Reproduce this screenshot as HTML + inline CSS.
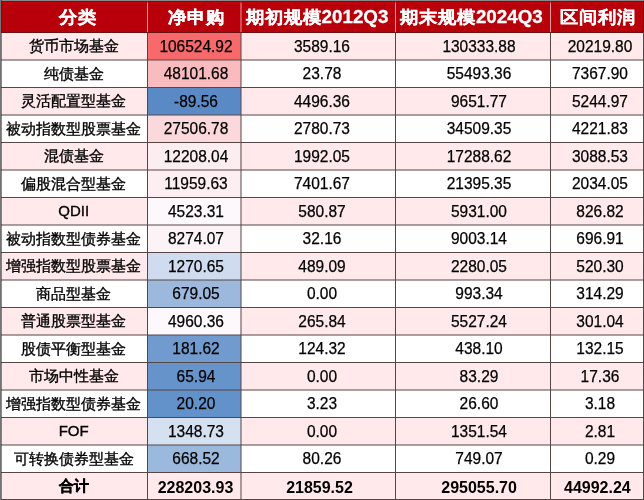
<!DOCTYPE html>
<html><head><meta charset="utf-8"><style>
html,body{margin:0;padding:0;width:644px;height:500px;overflow:hidden;background:#fff}
body{position:relative;font-family:"Liberation Sans",sans-serif}
svg{position:absolute;left:0;top:0}
.h,.k,.n{position:absolute;text-align:center;white-space:nowrap}
#t{position:absolute;left:0;top:0;width:644px;height:500px;will-change:transform}
.h{color:#fff;font-weight:bold;font-size:18.8px;-webkit-text-stroke:0.3px #fff;transform:scaleY(0.93)}
.k{color:#000;font-size:15px;-webkit-text-stroke:0.35px #000}
.n{color:#000;font-size:16.2px;-webkit-text-stroke:0.25px #000;transform:scaleX(0.9568)}
.n.b{transform:none;-webkit-text-stroke:0}
.b{font-weight:bold;font-size:16px}
.k.b{font-size:15px}
</style></head><body>
<svg width="644" height="500" viewBox="0 0 644 500" shape-rendering="geometricPrecision">
<rect x="0" y="0" width="644" height="32.5" fill="#b8000b"/>
<rect x="0" y="32.5" width="644" height="27.5" fill="#ffe9ea"/>
<rect x="147.5" y="32.5" width="93.5" height="27.5" fill="#f8696b"/>
<rect x="0" y="60.0" width="644" height="27.5" fill="#ffffff"/>
<rect x="147.5" y="60.0" width="93.5" height="27.5" fill="#fabbbe"/>
<rect x="0" y="87.5" width="644" height="27.5" fill="#ffe9ea"/>
<rect x="147.5" y="87.5" width="93.5" height="27.5" fill="#5a8ac6"/>
<rect x="0" y="115.0" width="644" height="27.5" fill="#ffffff"/>
<rect x="147.5" y="115.0" width="93.5" height="27.5" fill="#fbd8db"/>
<rect x="0" y="142.5" width="644" height="27.5" fill="#ffe9ea"/>
<rect x="147.5" y="142.5" width="93.5" height="27.5" fill="#fcedf0"/>
<rect x="0" y="170.0" width="644" height="27.5" fill="#ffffff"/>
<rect x="147.5" y="170.0" width="93.5" height="27.5" fill="#fceef1"/>
<rect x="0" y="197.5" width="644" height="27.5" fill="#ffe9ea"/>
<rect x="147.5" y="197.5" width="93.5" height="27.5" fill="#fcf8fb"/>
<rect x="0" y="225.0" width="644" height="27.5" fill="#ffffff"/>
<rect x="147.5" y="225.0" width="93.5" height="27.5" fill="#fcf3f6"/>
<rect x="0" y="252.5" width="644" height="27.5" fill="#ffe9ea"/>
<rect x="147.5" y="252.5" width="93.5" height="27.5" fill="#cfdcef"/>
<rect x="0" y="280.0" width="644" height="27.5" fill="#ffffff"/>
<rect x="147.5" y="280.0" width="93.5" height="27.5" fill="#9cb8dd"/>
<rect x="0" y="307.5" width="644" height="27.5" fill="#ffe9ea"/>
<rect x="147.5" y="307.5" width="93.5" height="27.5" fill="#fcf8fb"/>
<rect x="0" y="335.0" width="644" height="27.5" fill="#ffffff"/>
<rect x="147.5" y="335.0" width="93.5" height="27.5" fill="#719ace"/>
<rect x="0" y="362.5" width="644" height="27.5" fill="#ffe9ea"/>
<rect x="147.5" y="362.5" width="93.5" height="27.5" fill="#6793cb"/>
<rect x="0" y="390.0" width="644" height="27.5" fill="#ffffff"/>
<rect x="147.5" y="390.0" width="93.5" height="27.5" fill="#6391c9"/>
<rect x="0" y="417.5" width="644" height="27.5" fill="#ffe9ea"/>
<rect x="147.5" y="417.5" width="93.5" height="27.5" fill="#d5e1f1"/>
<rect x="0" y="445.0" width="644" height="27.5" fill="#ffffff"/>
<rect x="147.5" y="445.0" width="93.5" height="27.5" fill="#9bb8dd"/>
<rect x="0" y="472.5" width="644" height="27.0" fill="#ffe9ea"/>
<rect x="0" y="32.0" width="644" height="1" fill="#6a1010"/>
<rect x="0" y="59.5" width="644" height="1" fill="#574646"/>
<rect x="0" y="87.0" width="644" height="1" fill="#574646"/>
<rect x="0" y="114.5" width="644" height="1" fill="#574646"/>
<rect x="0" y="142.0" width="644" height="1" fill="#574646"/>
<rect x="0" y="169.5" width="644" height="1" fill="#574646"/>
<rect x="0" y="197.0" width="644" height="1" fill="#574646"/>
<rect x="0" y="224.5" width="644" height="1" fill="#574646"/>
<rect x="0" y="252.0" width="644" height="1" fill="#574646"/>
<rect x="0" y="279.5" width="644" height="1" fill="#574646"/>
<rect x="0" y="307.0" width="644" height="1" fill="#574646"/>
<rect x="0" y="334.5" width="644" height="1" fill="#574646"/>
<rect x="0" y="362.0" width="644" height="1" fill="#574646"/>
<rect x="0" y="389.5" width="644" height="1" fill="#574646"/>
<rect x="0" y="417.0" width="644" height="1" fill="#574646"/>
<rect x="0" y="444.5" width="644" height="1" fill="#574646"/>
<rect x="0" y="472.0" width="644" height="1" fill="#574646"/>
<rect x="0" y="499" width="644" height="1" fill="#574646"/>
<rect x="147.0" y="1" width="1" height="31.0" fill="#e89a9e"/>
<rect x="240.5" y="1" width="1" height="31.0" fill="#e89a9e"/>
<rect x="395.0" y="1" width="1" height="31.0" fill="#e89a9e"/>
<rect x="550.0" y="1" width="1" height="31.0" fill="#e89a9e"/>
<rect x="643" y="1" width="1" height="31.0" fill="#5a0808"/>
<rect x="0" y="1" width="644" height="1" fill="#8c0008" fill-opacity="0.8"/>
<rect x="0" y="2" width="644" height="1" fill="#d00010" fill-opacity="0.6"/>
<rect x="147.0" y="32.5" width="1" height="467.0" fill="#574646"/>
<rect x="240.5" y="32.5" width="1" height="467.0" fill="#574646"/>
<rect x="395.0" y="32.5" width="1" height="467.0" fill="#574646"/>
<rect x="550.0" y="32.5" width="1" height="467.0" fill="#574646"/>
<rect x="643.0" y="32.5" width="1" height="467.0" fill="#574646"/>
<rect x="0" y="0" width="644" height="1" fill="#8a8a8a"/>
<rect x="0" y="0" width="1" height="500" fill="#747474"/>
<rect x="1" y="0" width="1" height="500" fill="#282828" fill-opacity="0.55"/>
</svg>
<div id="t">
<div class="h" style="left:-22.400000000000006px;top:1px;width:200px;height:31.5px;line-height:31.5px">分类</div>
<div class="h" style="left:96.1px;top:1px;width:200px;height:31.5px;line-height:31.5px">净申购</div>
<div class="h" style="left:217.0px;top:1px;width:200px;height:31.5px;line-height:31.5px">期初规模2012Q3</div>
<div class="h" style="left:371.3px;top:1px;width:200px;height:31.5px;line-height:31.5px">期末规模2024Q3</div>
<div class="h" style="left:497.79999999999995px;top:1px;width:200px;height:31.5px;line-height:31.5px">区间利润</div>
<div class="k" style="left:-26.299999999999997px;top:32.0px;width:200px;height:27.5px;line-height:27.5px">货币市场基金</div>
<div class="n" style="left:96.0px;top:32.5px;width:200px;height:27.5px;line-height:27.5px">106524.92</div>
<div class="n" style="left:221.8px;top:32.5px;width:200px;height:27.5px;line-height:27.5px">3589.16</div>
<div class="n" style="left:379.0px;top:32.5px;width:200px;height:27.5px;line-height:27.5px">130333.88</div>
<div class="n" style="left:500.0px;top:32.5px;width:200px;height:27.5px;line-height:27.5px">20219.80</div>
<div class="k" style="left:-26.299999999999997px;top:59.5px;width:200px;height:27.5px;line-height:27.5px">纯债基金</div>
<div class="n" style="left:96.0px;top:60.0px;width:200px;height:27.5px;line-height:27.5px">48101.68</div>
<div class="n" style="left:221.8px;top:60.0px;width:200px;height:27.5px;line-height:27.5px">23.78</div>
<div class="n" style="left:379.0px;top:60.0px;width:200px;height:27.5px;line-height:27.5px">55493.36</div>
<div class="n" style="left:500.0px;top:60.0px;width:200px;height:27.5px;line-height:27.5px">7367.90</div>
<div class="k" style="left:-26.299999999999997px;top:87.0px;width:200px;height:27.5px;line-height:27.5px">灵活配置型基金</div>
<div class="n" style="left:96.0px;top:87.5px;width:200px;height:27.5px;line-height:27.5px">-89.56</div>
<div class="n" style="left:221.8px;top:87.5px;width:200px;height:27.5px;line-height:27.5px">4496.36</div>
<div class="n" style="left:379.0px;top:87.5px;width:200px;height:27.5px;line-height:27.5px">9651.77</div>
<div class="n" style="left:500.0px;top:87.5px;width:200px;height:27.5px;line-height:27.5px">5244.97</div>
<div class="k" style="left:-26.299999999999997px;top:114.5px;width:200px;height:27.5px;line-height:27.5px">被动指数型股票基金</div>
<div class="n" style="left:96.0px;top:115.0px;width:200px;height:27.5px;line-height:27.5px">27506.78</div>
<div class="n" style="left:221.8px;top:115.0px;width:200px;height:27.5px;line-height:27.5px">2780.73</div>
<div class="n" style="left:379.0px;top:115.0px;width:200px;height:27.5px;line-height:27.5px">34509.35</div>
<div class="n" style="left:500.0px;top:115.0px;width:200px;height:27.5px;line-height:27.5px">4221.83</div>
<div class="k" style="left:-26.299999999999997px;top:142.0px;width:200px;height:27.5px;line-height:27.5px">混债基金</div>
<div class="n" style="left:96.0px;top:142.5px;width:200px;height:27.5px;line-height:27.5px">12208.04</div>
<div class="n" style="left:221.8px;top:142.5px;width:200px;height:27.5px;line-height:27.5px">1992.05</div>
<div class="n" style="left:379.0px;top:142.5px;width:200px;height:27.5px;line-height:27.5px">17288.62</div>
<div class="n" style="left:500.0px;top:142.5px;width:200px;height:27.5px;line-height:27.5px">3088.53</div>
<div class="k" style="left:-26.299999999999997px;top:169.5px;width:200px;height:27.5px;line-height:27.5px">偏股混合型基金</div>
<div class="n" style="left:96.0px;top:170.0px;width:200px;height:27.5px;line-height:27.5px">11959.63</div>
<div class="n" style="left:221.8px;top:170.0px;width:200px;height:27.5px;line-height:27.5px">7401.67</div>
<div class="n" style="left:379.0px;top:170.0px;width:200px;height:27.5px;line-height:27.5px">21395.35</div>
<div class="n" style="left:500.0px;top:170.0px;width:200px;height:27.5px;line-height:27.5px">2034.05</div>
<div class="k" style="left:-26.299999999999997px;top:197.0px;width:200px;height:27.5px;line-height:27.5px">QDII</div>
<div class="n" style="left:96.0px;top:197.5px;width:200px;height:27.5px;line-height:27.5px">4523.31</div>
<div class="n" style="left:221.8px;top:197.5px;width:200px;height:27.5px;line-height:27.5px">580.87</div>
<div class="n" style="left:379.0px;top:197.5px;width:200px;height:27.5px;line-height:27.5px">5931.00</div>
<div class="n" style="left:500.0px;top:197.5px;width:200px;height:27.5px;line-height:27.5px">826.82</div>
<div class="k" style="left:-26.299999999999997px;top:224.5px;width:200px;height:27.5px;line-height:27.5px">被动指数型债券基金</div>
<div class="n" style="left:96.0px;top:225.0px;width:200px;height:27.5px;line-height:27.5px">8274.07</div>
<div class="n" style="left:221.8px;top:225.0px;width:200px;height:27.5px;line-height:27.5px">32.16</div>
<div class="n" style="left:379.0px;top:225.0px;width:200px;height:27.5px;line-height:27.5px">9003.14</div>
<div class="n" style="left:500.0px;top:225.0px;width:200px;height:27.5px;line-height:27.5px">696.91</div>
<div class="k" style="left:-26.299999999999997px;top:252.0px;width:200px;height:27.5px;line-height:27.5px">增强指数型股票基金</div>
<div class="n" style="left:96.0px;top:252.5px;width:200px;height:27.5px;line-height:27.5px">1270.65</div>
<div class="n" style="left:221.8px;top:252.5px;width:200px;height:27.5px;line-height:27.5px">489.09</div>
<div class="n" style="left:379.0px;top:252.5px;width:200px;height:27.5px;line-height:27.5px">2280.05</div>
<div class="n" style="left:500.0px;top:252.5px;width:200px;height:27.5px;line-height:27.5px">520.30</div>
<div class="k" style="left:-26.299999999999997px;top:279.5px;width:200px;height:27.5px;line-height:27.5px">商品型基金</div>
<div class="n" style="left:96.0px;top:280.0px;width:200px;height:27.5px;line-height:27.5px">679.05</div>
<div class="n" style="left:221.8px;top:280.0px;width:200px;height:27.5px;line-height:27.5px">0.00</div>
<div class="n" style="left:379.0px;top:280.0px;width:200px;height:27.5px;line-height:27.5px">993.34</div>
<div class="n" style="left:500.0px;top:280.0px;width:200px;height:27.5px;line-height:27.5px">314.29</div>
<div class="k" style="left:-26.299999999999997px;top:307.0px;width:200px;height:27.5px;line-height:27.5px">普通股票型基金</div>
<div class="n" style="left:96.0px;top:307.5px;width:200px;height:27.5px;line-height:27.5px">4960.36</div>
<div class="n" style="left:221.8px;top:307.5px;width:200px;height:27.5px;line-height:27.5px">265.84</div>
<div class="n" style="left:379.0px;top:307.5px;width:200px;height:27.5px;line-height:27.5px">5527.24</div>
<div class="n" style="left:500.0px;top:307.5px;width:200px;height:27.5px;line-height:27.5px">301.04</div>
<div class="k" style="left:-26.299999999999997px;top:334.5px;width:200px;height:27.5px;line-height:27.5px">股债平衡型基金</div>
<div class="n" style="left:96.0px;top:335.0px;width:200px;height:27.5px;line-height:27.5px">181.62</div>
<div class="n" style="left:221.8px;top:335.0px;width:200px;height:27.5px;line-height:27.5px">124.32</div>
<div class="n" style="left:379.0px;top:335.0px;width:200px;height:27.5px;line-height:27.5px">438.10</div>
<div class="n" style="left:500.0px;top:335.0px;width:200px;height:27.5px;line-height:27.5px">132.15</div>
<div class="k" style="left:-26.299999999999997px;top:362.0px;width:200px;height:27.5px;line-height:27.5px">市场中性基金</div>
<div class="n" style="left:96.0px;top:362.5px;width:200px;height:27.5px;line-height:27.5px">65.94</div>
<div class="n" style="left:221.8px;top:362.5px;width:200px;height:27.5px;line-height:27.5px">0.00</div>
<div class="n" style="left:379.0px;top:362.5px;width:200px;height:27.5px;line-height:27.5px">83.29</div>
<div class="n" style="left:500.0px;top:362.5px;width:200px;height:27.5px;line-height:27.5px">17.36</div>
<div class="k" style="left:-26.299999999999997px;top:389.5px;width:200px;height:27.5px;line-height:27.5px">增强指数型债券基金</div>
<div class="n" style="left:96.0px;top:390.0px;width:200px;height:27.5px;line-height:27.5px">20.20</div>
<div class="n" style="left:221.8px;top:390.0px;width:200px;height:27.5px;line-height:27.5px">3.23</div>
<div class="n" style="left:379.0px;top:390.0px;width:200px;height:27.5px;line-height:27.5px">26.60</div>
<div class="n" style="left:500.0px;top:390.0px;width:200px;height:27.5px;line-height:27.5px">3.18</div>
<div class="k" style="left:-26.299999999999997px;top:417.0px;width:200px;height:27.5px;line-height:27.5px">FOF</div>
<div class="n" style="left:96.0px;top:417.5px;width:200px;height:27.5px;line-height:27.5px">1348.73</div>
<div class="n" style="left:221.8px;top:417.5px;width:200px;height:27.5px;line-height:27.5px">0.00</div>
<div class="n" style="left:379.0px;top:417.5px;width:200px;height:27.5px;line-height:27.5px">1351.54</div>
<div class="n" style="left:500.0px;top:417.5px;width:200px;height:27.5px;line-height:27.5px">2.81</div>
<div class="k" style="left:-26.299999999999997px;top:444.5px;width:200px;height:27.5px;line-height:27.5px">可转换债券型基金</div>
<div class="n" style="left:96.0px;top:445.0px;width:200px;height:27.5px;line-height:27.5px">668.52</div>
<div class="n" style="left:221.8px;top:445.0px;width:200px;height:27.5px;line-height:27.5px">80.26</div>
<div class="n" style="left:379.0px;top:445.0px;width:200px;height:27.5px;line-height:27.5px">749.07</div>
<div class="n" style="left:500.0px;top:445.0px;width:200px;height:27.5px;line-height:27.5px">0.29</div>
<div class="k b" style="left:-26.299999999999997px;top:472.0px;width:200px;height:27.0px;line-height:27.0px">合计</div>
<div class="n b" style="left:95.5px;top:474.3px;width:200px;height:27.0px;line-height:27.0px">228203.93</div>
<div class="n b" style="left:219.5px;top:474.3px;width:200px;height:27.0px;line-height:27.0px">21859.52</div>
<div class="n b" style="left:379.1px;top:474.3px;width:200px;height:27.0px;line-height:27.0px">295055.70</div>
<div class="n b" style="left:497.4px;top:474.3px;width:200px;height:27.0px;line-height:27.0px">44992.24</div>
</div>
</body></html>
